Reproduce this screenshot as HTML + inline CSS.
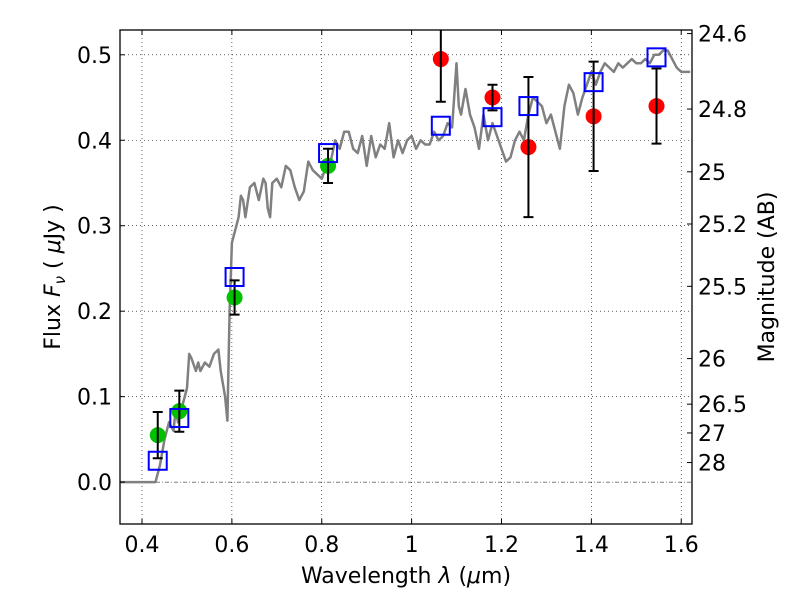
<!DOCTYPE html>
<html><head><meta charset="utf-8"><style>
body{margin:0;background:#fff;}
svg text{font-family:"DejaVu Sans","Liberation Sans",sans-serif;fill:#000;}
</style></head><body>
<svg id="chart" width="800" height="600" xmlns="http://www.w3.org/2000/svg">
<defs><clipPath id="clip"><rect x="120" y="30" width="572" height="494"/></clipPath></defs>
<rect width="800" height="600" fill="#fff"/>
<g id="grid"></g>
<g id="spec" clip-path="url(#clip)"></g>
<g id="marks" clip-path="url(#clip)"></g>
<rect x="120" y="30" width="572" height="494" fill="none" stroke="#000" stroke-width="1.3"/>
<g id="axes"></g>
<text x="406" y="583" font-size="22" text-anchor="middle">Wavelength  <tspan font-style="italic">λ</tspan> (<tspan font-style="italic">μ</tspan>m)</text>
<text transform="translate(60,277) rotate(-90)" font-size="22" text-anchor="middle">Flux  <tspan font-style="italic">F</tspan><tspan font-style="italic" font-size="15" dy="5">ν</tspan><tspan dy="-5">  ( </tspan><tspan font-style="italic">μ</tspan>Jy )</text>
<text transform="translate(774,277) rotate(-90)" font-size="22" text-anchor="middle">Magnitude (AB)</text>
</svg>
<script>
const xTicks=[0.4,0.6,0.8,1.0,1.2,1.4,1.6];
const xTickLabels=["0.4","0.6","0.8","1","1.2","1.4","1.6"];
const yTicks=[0,0.1,0.2,0.3,0.4,0.5];
const yTickLabels=["0.0","0.1","0.2","0.3","0.4","0.5"];
const magTicks=[24.6,24.8,25,25.2,25.5,26,26.5,27,28];
const magLabels=["24.6","24.8","25","25.2","25.5","26","26.5","27","28"];
const specWave=[0.35,0.43,0.44,0.45,0.46,0.47,0.475,0.48,0.49,0.50,0.505,0.51,0.52,0.525,0.53,0.54,0.55,0.56,0.57,0.575,0.58,0.585,0.59,0.595,0.60,0.61,0.615,0.62,0.625,0.63,0.64,0.65,0.66,0.67,0.675,0.68,0.685,0.69,0.70,0.71,0.72,0.73,0.74,0.75,0.76,0.77,0.78,0.79,0.80,0.81,0.82,0.83,0.84,0.85,0.86,0.87,0.88,0.89,0.90,0.91,0.92,0.93,0.94,0.95,0.96,0.97,0.98,0.99,1.0,1.01,1.02,1.03,1.04,1.05,1.06,1.07,1.08,1.09,1.10,1.105,1.11,1.12,1.13,1.14,1.15,1.16,1.17,1.18,1.19,1.20,1.21,1.22,1.23,1.24,1.25,1.26,1.27,1.28,1.29,1.30,1.31,1.32,1.33,1.34,1.35,1.36,1.37,1.38,1.39,1.40,1.41,1.42,1.43,1.44,1.45,1.46,1.47,1.48,1.49,1.50,1.51,1.52,1.53,1.54,1.55,1.56,1.57,1.58,1.59,1.60,1.62];
const specFlux=[0,0,0.02,0.05,0.07,0.06,0.085,0.07,0.09,0.11,0.15,0.145,0.13,0.14,0.13,0.14,0.135,0.15,0.155,0.13,0.115,0.10,0.072,0.2,0.28,0.30,0.31,0.335,0.33,0.31,0.345,0.35,0.33,0.355,0.35,0.32,0.31,0.35,0.355,0.345,0.37,0.365,0.345,0.33,0.34,0.375,0.365,0.36,0.355,0.37,0.375,0.4,0.39,0.41,0.41,0.39,0.385,0.405,0.37,0.405,0.38,0.395,0.39,0.42,0.38,0.4,0.385,0.4,0.405,0.39,0.4,0.395,0.395,0.41,0.4,0.405,0.42,0.415,0.49,0.44,0.43,0.46,0.43,0.415,0.39,0.43,0.4,0.42,0.405,0.39,0.375,0.38,0.4,0.41,0.4,0.43,0.45,0.445,0.44,0.42,0.43,0.41,0.39,0.44,0.465,0.455,0.43,0.45,0.465,0.48,0.465,0.48,0.49,0.485,0.48,0.49,0.485,0.49,0.495,0.49,0.49,0.495,0.49,0.5,0.5,0.505,0.505,0.495,0.485,0.48,0.48];
const greenWave=[0.435,0.483,0.606,0.814];
const greenFlux=[0.055,0.083,0.216,0.37];
const greenErr=[0.027,0.024,0.02,0.02];
const redWave=[1.065,1.18,1.26,1.405,1.545];
const redFlux=[0.495,0.45,0.392,0.428,0.44];
const redErr=[0.05,0.015,0.082,0.064,0.044];
const modelWave=[0.435,0.483,0.606,0.814,1.065,1.18,1.26,1.405,1.545];
const modelFlux=[0.025,0.075,0.24,0.385,0.417,0.427,0.44,0.468,0.497];

const X0=120,X1=692,Y0=524,Y1=30,xmin=0.351,xmax=1.624,ymin=-0.049,ymax=0.529;
const sx=v=>X0+(v-xmin)/(xmax-xmin)*(X1-X0);
const sy=v=>Y0-(v-ymin)/(ymax-ymin)*(Y0-Y1);
const NS="http://www.w3.org/2000/svg";
function mk(tag,attrs,parent){const e=document.createElementNS(NS,tag);for(const k in attrs)e.setAttribute(k,attrs[k]);parent.appendChild(e);return e;}
const grid=document.getElementById('grid'),axes=document.getElementById('axes'),spec=document.getElementById('spec'),marks=document.getElementById('marks');
xTicks.forEach((t,i)=>{const x=sx(t);
 let g=mk('line',{x1:x,x2:x,y1:Y1,y2:Y0,stroke:'#000','stroke-width':0.6,'stroke-dasharray':'1,3'},grid);
 
 
 mk('line',{x1:x,x2:x,y1:Y0,y2:Y0-5,stroke:'#000'},axes);
 mk('line',{x1:x,x2:x,y1:Y1,y2:Y1+5,stroke:'#000'},axes);
 let tx=mk('text',{x:x,y:Y0+28,'font-size':22,'text-anchor':'middle'},axes);tx.textContent=xTickLabels[i];
 
 
});
yTicks.forEach((t,i)=>{const y=sy(t);
 let g=mk('line',{x1:X0,x2:X1,y1:y,y2:y,stroke:'#000','stroke-width':0.6,'stroke-dasharray':t===0?'4,2,1,2':'1,3'},grid);
 
 
 mk('line',{x1:X0,x2:X0+5,y1:y,y2:y,stroke:'#000'},axes);
 let tx=mk('text',{x:X0-8,y:y+8,'font-size':22,'text-anchor':'end'},axes);tx.textContent=yTickLabels[i];
 
 
});
magTicks.forEach((m,i)=>{const y=sy(Math.pow(10,(23.9-m)/2.5));
 mk('line',{x1:X1,x2:X1-5,y1:y,y2:y,stroke:'#000'},axes);
 let tx=mk('text',{x:X1+6,y:y+8,'font-size':22},axes);tx.textContent=magLabels[i];
 
 
});
let d=specWave.map((w,i)=>(i?'L':'M')+sx(w).toFixed(1)+','+sy(specFlux[i]).toFixed(1)).join('');
let p=mk('path',{d:d,fill:'none',stroke:'#808080','stroke-width':2.5,'stroke-linejoin':'round'},spec);


function pts(W,F,E,col,name){W.forEach((w,i)=>{const x=sx(w);
 const c=mk('circle',{cx:x,cy:sy(F[i]),r:8,fill:col},marks);
 
 
 const y1=sy(F[i]+E[i]),y2=sy(F[i]-E[i]);
 const eb=mk('path',{d:`M${x},${y1}L${x},${y2}M${x-5},${y1}L${x+5},${y1}M${x-5},${y2}L${x+5},${y2}`,stroke:'#000','stroke-width':2,fill:'none'},marks);
 
 
});}
pts(greenWave,greenFlux,greenErr,'#00c000','hst-point');
pts(redWave,redFlux,redErr,'#ff0000','nir-point');
modelWave.forEach((w,i)=>{
 const r=mk('rect',{x:sx(w)-9,y:sy(modelFlux[i])-9,width:18,height:18,fill:'none',stroke:'#0000ff','stroke-width':2},marks);
 
 
});
</script>
</body></html>
